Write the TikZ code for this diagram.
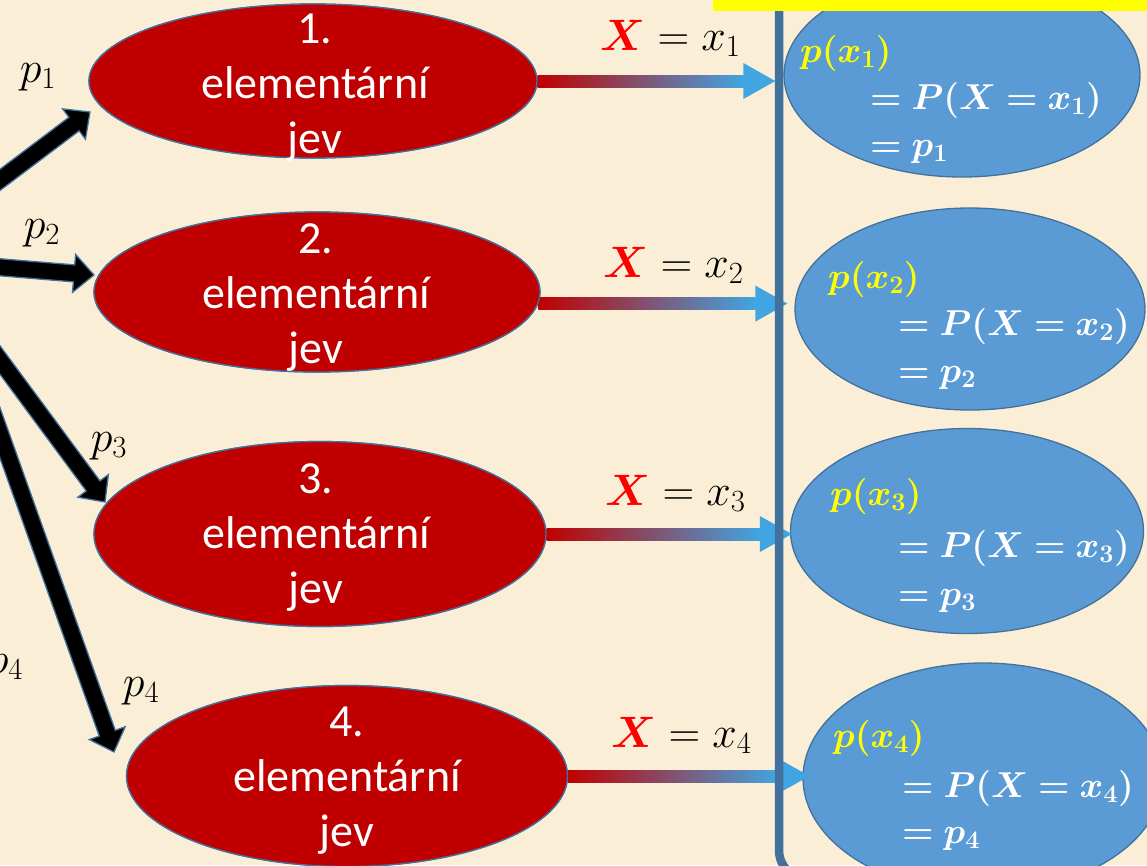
\RequirePackage{fix-cm}
\documentclass[tikz,border=0pt]{standalone}
\usepackage{fontspec}
\usepackage{bm}
\newfontfamily\calib{Carlito}
\usetikzlibrary{shapes.geometric,calc}
\definecolor{bgc}{RGB}{250,239,214}
\definecolor{redel}{RGB}{192,0,0}
\definecolor{blueel}{RGB}{91,155,213}
\definecolor{bord}{RGB}{65,113,156}
\definecolor{arrblue}{RGB}{65,165,225}
\definecolor{arrmid}{RGB}{160,100,140}
\definecolor{yel}{RGB}{255,255,0}
\definecolor{labred}{RGB}{255,0,0}
\newcommand\gradarrow[2]{%
  \shade[left color=redel, middle color=arrmid, right color=arrblue]
    let \p1=(#1), \p2=(#2) in (\x1,\y1-6pt) rectangle (\x2-32pt,\y1+6pt);
  \fill[arrblue] let \p1=(#1), \p2=(#2) in
    (\x2-32pt,\y1-18pt) -- (\x2,\y1) -- (\x2-32pt,\y1+18pt) -- cycle;}
\newcommand\blockarrow[2]{%
  \coordinate (H) at ($(#2)!20pt!(#1)$);
  \filldraw[blk] ($(#1)!8.5pt!90:(#2)$) -- ($(H)!8.5pt!-90:(#1)$) -- ($(H)!19pt!-90:(#1)$)
    -- (#2) -- ($(H)!19pt!90:(#1)$) -- ($(H)!8.5pt!90:(#1)$) -- ($(#1)!8.5pt!-90:(#2)$) -- cycle;}
\newcommand\redX{{\color{labred}\bm{X}}}
\begin{document}
\begin{tikzpicture}[x=1pt,y=-1pt,
  redell/.style={ellipse, fill=redel, draw=bord, line width=1.3pt, inner sep=0},
  blueell/.style={ellipse, fill=blueel, draw=bord, line width=1.3pt, inner sep=0},
  evtext/.style={text=white, font=\calib\fontsize{46}{55}\selectfont, align=center, inner sep=0},
  plab/.style={font=\fontsize{44}{50}\selectfont, inner sep=0},
  xlab/.style={font=\fontsize{44}{50}\selectfont, inner sep=0, anchor=base west},
  ptext/.style={font=\fontsize{36}{44}\selectfont, inner sep=0, anchor=base west, text=white},
  blk/.style={fill=black, draw=bord, line width=1.3pt, line join=miter},
  vline/.style={draw=bord, line width=8.5pt, rounded corners=30pt}]
\useasboundingbox (0,0) rectangle (1147,865);
\clip (0,0) rectangle (1147,865);
\fill[bgc] (0,0) rectangle (1147,865);

% blue ellipses
\node[blueell, minimum width=356pt, minimum height=204pt] (b1) at (962,75) {};
\node[blueell, minimum width=350pt, minimum height=202pt] (b2) at (970,309) {};
\node[blueell, minimum width=353pt, minimum height=205pt] (b3) at (967,531) {};
\node[blueell, minimum width=360pt, minimum height=230pt] (b4) at (983,778) {};

% red ellipses (positions)
\node[redell, minimum width=448pt, minimum height=154pt] (r1) at (313,81) {};
\node[redell, minimum width=446pt, minimum height=160pt] (r2) at (317,292) {};
\node[redell, minimum width=452pt, minimum height=185pt] (r3) at (320,534) {};
\node[redell, minimum width=441pt, minimum height=181pt] (r4) at (347,776) {};

% gradient arrows
\coordinate (g1) at ($(r1.east -| b1.west)+(-8,0)$);
\coordinate (g2) at ($(r2.-3.4 -| b2.west)+(-7,0)$);
\coordinate (g3) at ($(r3.east -| b3.west)+(2,0)$);
\coordinate (g4) at ($(r4.-0.8 -| b4.west)+(7,0)$);
\gradarrow{r1.east}{g1}
\gradarrow{r2.-3.4}{g2}
\gradarrow{r3.east}{g3}
\gradarrow{r4.-0.8}{g4}

% redraw red ellipses on top of arrow starts
\node[redell, minimum width=448pt, minimum height=154pt] at (r1) {};
\node[redell, minimum width=446pt, minimum height=160pt] at (r2) {};
\node[redell, minimum width=452pt, minimum height=185pt] at (r3) {};
\node[redell, minimum width=441pt, minimum height=181pt] at (r4) {};

% event texts
\node[evtext] (t1) at (315,88) {1.\\elementární\\jev};
\node[evtext] (t2) at (316,298) {2.\\elementární\\jev};
\node[evtext] (t3) at (316,538) {3.\\elementární\\jev};
\node[evtext] (t4) at (347,781) {4.\\elementární\\jev};

% X = x labels
\node[xlab] (x1) at (600,50) {$\redX=x_1$};
\node[xlab] (x2) at (603,277) {$\redX=x_2$};
\node[xlab] (x3) at (605,505) {$\redX=x_3$};
\node[xlab] (x4) at (611,747) {$\redX=x_4$};

% probability texts
\foreach \i/\xa/\ya/\xb/\yb/\yc in {1/800/62/870/109/156, 2/828/288/898/335/382, 3/830/505/898/557/605, 4/833/747/902/797/843}{
  \node[ptext, text=yel] (pa\i) at (\xa,\ya) {$\bm{p(x_{\i})}$};
  \node[ptext] (pb\i) at (\xb,\yb) {$\bm{=P(X=x_{\i})}$};
  \node[ptext] (pc\i) at (\xb,\yc) {$\bm{=p_{\i}}$};
}

% black block arrows
\coordinate (s1) at (-40,210); \coordinate (e1) at (90,112);
\coordinate (s2) at (-40,264); \coordinate (e2) at (94,275);
\coordinate (s3) at (-40,306); \coordinate (e3) at (105,502);
\coordinate (s4) at (-40,321); \coordinate (e4) at (114,752);
\blockarrow{s1}{e1}
\blockarrow{s2}{e2}
\blockarrow{s3}{e3}
\blockarrow{s4}{e4}

% p labels
\node[plab] (p1) at (38,77) {$p_1$};
\node[plab] (p2) at (42,233) {$p_2$};
\node[plab] (p3) at (109,446) {$p_3$};
\node[plab] (p4) at (141,691) {$p_4$};
\node[plab] (p4b) at (5,668) {$p_4$};

% vertical frame line
\draw[vline] (779,-20) -- (779,880) -- (960,880);
% yellow bar
\fill[yel] (713,-5) rectangle (1150,11);
\end{tikzpicture}
\end{document}
